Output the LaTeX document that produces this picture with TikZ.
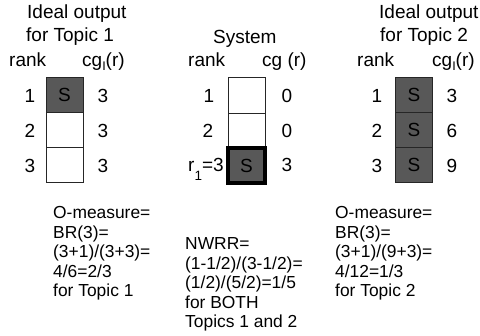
\documentclass[tikz,border=0pt]{standalone}
\usepackage{fontspec}
\setmainfont{Liberation Sans}
\definecolor{hitgray}{RGB}{88,88,88}
\newcommand\linesof[1]{\vtop{\baselineskip=19.4pt\lineskiplimit=0pt #1}}
\newcommand\subI{\raisebox{-4pt}{\fontsize{12.5}{12.5}\selectfont I}}
\begin{document}
\begin{tikzpicture}[x=1pt,y=-1pt,
  txt/.style={inner sep=0pt, anchor=base, font=\fontsize{19}{21}\selectfont},
  head/.style={txt, anchor=base west},
  note/.style={inner sep=0pt, anchor=base west, font=\fontsize{17.4}{19.4}\selectfont},
  cell/.style={draw=black!85, line width=0.9pt, minimum width=37pt, minimum height=35.3pt, inner sep=0pt, font=\fontsize{19}{21}\selectfont},
  hit/.style={cell, fill=hitgray},
  firsthit/.style={hit, line width=4pt, draw=black}]
\useasboundingbox (0,0) rectangle (480,336);

% ---- ideal output, topic 1 ----
\node[head] (t1a) at (27,19) {Ideal output};
\node[head] (t1b) at (26,42) {for Topic 1};
\node[head] (t1rank) at (9,67) {rank};
\node[head] (t1cg) at (82,67) {cg\subI(r)};
\node[hit]  (a1) at (64.5,94.7) {S};
\node[cell] (a2) at (64.5,130) {};
\node[cell] (a3) at (64.5,165.3) {};
\node[txt] (ar1) at (30,103) {1};
\node[txt] (ar2) at (30,138) {2};
\node[txt] (ar3) at (30,173) {3};
\node[txt] (av1) at (103,103) {3};
\node[txt] (av2) at (103,138) {3};
\node[txt] (av3) at (103,173) {3};

% ---- system ----
\node[head] (sys) at (213,44) {System};
\node[head] (srank) at (188,67) {rank};
\node[head] (scg) at (262,67) {cg (r)};
\node[cell] (s1) at (246.5,95.5) {};
\node[cell, minimum height=35pt] (s2) at (246.5,130.5) {};
\node[firsthit, minimum height=35pt] (s3) at (246.5,165.5) {S};
\node[txt] (sr1) at (209,103) {1};
\node[txt] (sr2) at (208,138) {2};
\node[head] (sr3) at (188,172) {r\raisebox{-9pt}{\fontsize{13.5}{13.5}\selectfont 1}=3};
\node[txt] (sv1) at (287,103) {0};
\node[txt] (sv2) at (287,138) {0};
\node[txt] (sv3) at (287,172) {3};

% ---- ideal output, topic 2 ----
\node[head] (t2a) at (379,19) {Ideal output};
\node[head] (t2b) at (380,42) {for Topic 2};
\node[head] (t2rank) at (357,67) {rank};
\node[head] (t2cg) at (432,67) {cg\subI(r)};
\node[hit] (b1) at (414,94.7) {S};
\node[hit] (b2) at (414,130) {S};
\node[hit] (b3) at (414,165.3) {S};
\node[txt] (br1) at (377,103) {1};
\node[txt] (br2) at (377,138) {2};
\node[txt] (br3) at (377,173) {3};
\node[txt] (bv1) at (452,103) {3};
\node[txt] (bv2) at (452,138) {6};
\node[txt] (bv3) at (452,173) {9};

% ---- measures ----
\node[note] (om1) at (53,219) {\linesof{\hbox{O-measure=}\hbox{BR(3)=}\hbox{(3+1)/(3+3)=}\hbox{4/6=2/3}\hbox{for Topic 1}}};
\node[note] (nwrr) at (185,250) {\linesof{\hbox{NWRR=}\hbox{(1-1/2)/(3-1/2)=}\hbox{(1/2)/(5/2)=1/5}\hbox{for BOTH}\hbox{Topics 1 and 2}}};
\node[note] (om2) at (335,219) {\linesof{\hbox{O-measure=}\hbox{BR(3)=}\hbox{(3+1)/(9+3)=}\hbox{4/12=1/3}\hbox{for Topic 2}}};
\end{tikzpicture}
\end{document}
